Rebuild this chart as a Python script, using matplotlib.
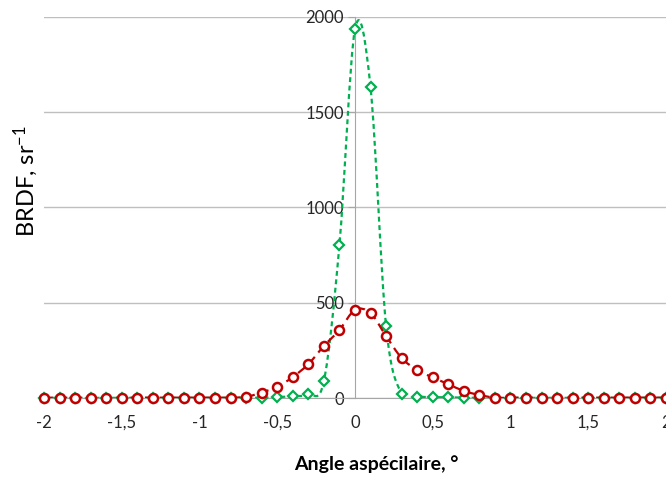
import matplotlib
matplotlib.use("Agg")
import matplotlib.pyplot as plt
from matplotlib.path import Path
from matplotlib.patches import PathPatch

plt.rcParams['font.family'] = ['Lato', 'DejaVu Sans']
plt.rcParams['mathtext.fontset'] = 'custom'
plt.rcParams['mathtext.rm'] = 'Lato'
plt.rcParams['mathtext.it'] = 'Lato'

angles = [-2.0, -1.9, -1.8, -1.7, -1.6, -1.5, -1.4, -1.3, -1.2, -1.1,
          -1.0, -0.9, -0.8, -0.7, -0.6, -0.5, -0.4, -0.3, -0.2, -0.1,
          0.0, 0.1, 0.2, 0.3, 0.4, 0.5, 0.6, 0.7, 0.8, 0.9,
          1.0, 1.1, 1.2, 1.3, 1.4, 1.5, 1.6, 1.7, 1.8, 1.9, 2.0]

brdf_red = [2, 2, 2, 2, 2, 2, 2, 2, 2, 2,
            2, 2, 2, 6, 29, 59, 110, 178, 273, 357,
            462, 446, 325, 210, 147, 108, 73, 37, 16, 2,
            2, 2, 2, 2, 2, 2, 2, 2, 2, 2, 2]

brdf_green = [1, 1, 1, 1, 1, 1, 1, 1, 1, 1,
              1, 1, 1, 1, 2, 5, 10, 19, 89, 803,
              1935, 1630, 378, 21, 8, 5, 4, 2, 1, 1,
              1, 1, 1, 1, 1, 1, 1, 1, 1, 1, 1]

xticks = [-2, -1.5, -1, -0.5, 0, 0.5, 1, 1.5, 2]
xtick_labels = ['-2', '-1,5', '-1', '-0,5', '0', '0,5', '1', '1,5', '2']
yticks = [0, 500, 1000, 1500, 2000]

RED = '#C00000'
GREEN = '#00B050'


def smooth_path(xs, ys):
    verts = [(xs[0], ys[0])]
    codes = [Path.MOVETO]
    n = len(xs)
    for i in range(n - 1):
        x0, y0 = (xs[i - 1], ys[i - 1]) if i > 0 else (xs[i], ys[i])
        x1, y1 = xs[i], ys[i]
        x2, y2 = xs[i + 1], ys[i + 1]
        x3, y3 = (xs[i + 2], ys[i + 2]) if i + 2 < n else (x2, y2)
        c1 = (x1 + (x2 - x0) / 6, y1 + (y2 - y0) / 6)
        c2 = (x2 - (x3 - x1) / 6, y2 - (y3 - y1) / 6)
        verts += [c1, c2, (x2, y2)]
        codes += [Path.CURVE4] * 3
    return Path(verts, codes)


fig = plt.figure(figsize=(6.66, 4.79), dpi=100)
ax = fig.add_axes([0.066, 0.169, 0.934, 0.796])

ax.set_xlim(-2, 2)
ax.set_ylim(0, 2000)

ax.yaxis.grid(True, color='#BFBFBF', linewidth=1)
ax.set_axisbelow(True)

for s in ['top', 'right']:
    ax.spines[s].set_visible(False)
ax.spines['left'].set_position(('data', 0))
ax.spines['left'].set_color('#A6A6A6')
ax.spines['bottom'].set_color('#A6A6A6')

# green series
ax.add_patch(PathPatch(smooth_path(angles, brdf_green), fill=False,
                       edgecolor=GREEN, linewidth=1.6, linestyle=(0, (2.2, 1.6)),
                       zorder=3))
ax.plot(angles, brdf_green, linestyle='none', marker='D', markersize=5.5,
        markerfacecolor='white', markeredgecolor=GREEN, markeredgewidth=1.6,
        zorder=4, clip_on=False)

# red series
ax.add_patch(PathPatch(smooth_path(angles, brdf_red), fill=False,
                       edgecolor=RED, linewidth=1.6, linestyle=(0, (4, 2.5)),
                       zorder=5))
ax.plot(angles, brdf_red, linestyle='none', marker='o', markersize=6.5,
        markerfacecolor='white', markeredgecolor=RED, markeredgewidth=1.8,
        zorder=6, clip_on=False)

ax.set_xticks(xticks)
ax.set_xticklabels(xtick_labels)
ax.set_yticks(yticks)
ax.set_yticklabels([str(v) for v in yticks])
ax.tick_params(axis='x', length=0, pad=12, labelsize=12, colors='#262626')
ax.tick_params(axis='y', length=5, direction='out', color='#A6A6A6',
               pad=3, labelsize=12, labelcolor='#262626')

fig.text(26 / 666, 1 - 181 / 479, 'BRDF, sr$^{-1}$', fontsize=17,
         rotation=90, ha='center', va='center', color='black')
fig.text(376 / 666, 1 - 464 / 479, 'Angle aspécilaire, °', fontsize=14,
         fontweight='bold', ha='center', va='center', color='black')

fig.savefig('out.png', dpi=100)
